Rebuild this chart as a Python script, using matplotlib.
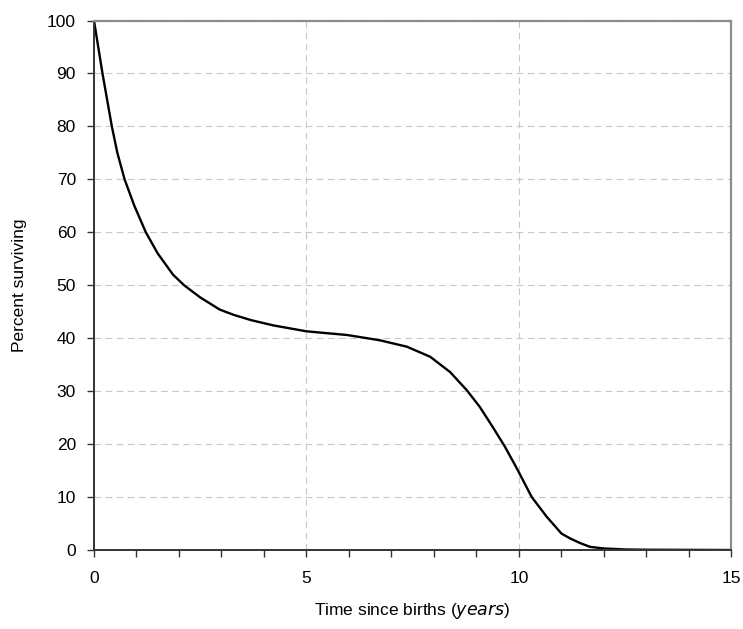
import matplotlib.pyplot as plt
from matplotlib.ticker import MultipleLocator

# Survival curve
years = [0.0, 0.1, 0.2, 0.31, 0.42, 0.55, 0.72, 0.95, 1.22, 1.5, 1.86,
         2.12, 2.5, 2.96, 3.29, 3.7, 4.23, 5.0, 5.96, 6.73, 7.36, 7.91,
         8.38, 8.77, 9.08, 9.4, 9.67, 9.95, 10.3, 10.65, 11.0, 11.2, 11.44,
         11.67, 11.98, 12.5, 13.0, 15.0]
surviving = [100, 95, 90, 85, 80, 75, 70, 65, 60, 56, 52,
             50, 47.7, 45.4, 44.4, 43.4, 42.4, 41.3, 40.6, 39.6, 38.4, 36.5,
             33.6, 30.2, 27.0, 23, 19.5, 15.4, 10, 6.3, 3.1, 2.2, 1.3,
             0.6, 0.3, 0.1, 0.05, 0]

plt.rcParams['font.family'] = ['Liberation Sans', 'DejaVu Sans']

fig = plt.figure(figsize=(7.43, 6.29), dpi=100)
ax = fig.add_axes([0.1265, 0.1256, 0.8580, 0.8418])

ax.plot(years, surviving, color="black", linewidth=1.7,
        solid_joinstyle="round", solid_capstyle="round")

ax.set_xlim(0, 15)
ax.set_ylim(0, 100)
ax.xaxis.set_major_locator(MultipleLocator(5))
ax.xaxis.set_minor_locator(MultipleLocator(1))
ax.yaxis.set_major_locator(MultipleLocator(10))

ax.grid(True, which="major", linestyle=(0, (6, 4)), color="#c8c8c8", linewidth=0.8)
ax.set_axisbelow(True)

for side in ("top", "right"):
    ax.spines[side].set_color("#8c8c8c")
    ax.spines[side].set_linewidth(1.6)
for side in ("left", "bottom"):
    ax.spines[side].set_color("#333333")
    ax.spines[side].set_linewidth(1.4)

ax.tick_params(axis="both", which="both", direction="out", length=5,
               width=1.0, color="#333333", labelsize=12.5)
ax.tick_params(axis="y", pad=8)
ax.tick_params(axis="x", pad=10)

ax.set_xlabel("Time since births ($\\it{years}$)", fontsize=12.5, labelpad=11)
ax.set_ylabel("Percent surviving", fontsize=12.5, labelpad=14)

fig.savefig("out.png", dpi=100)
